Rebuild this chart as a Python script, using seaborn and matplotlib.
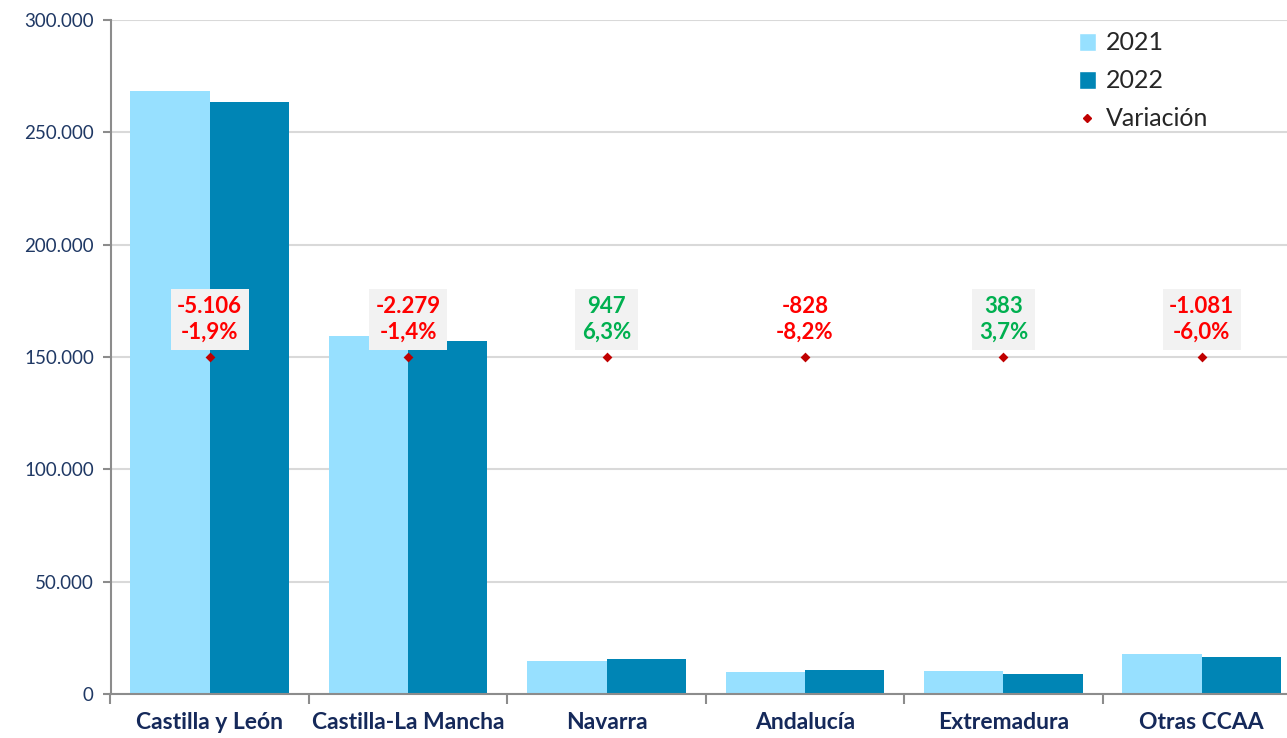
import numpy as np
import pandas as pd
import matplotlib
matplotlib.use("Agg")
import matplotlib.pyplot as plt
import seaborn as sns
from matplotlib.patches import Patch
from matplotlib.lines import Line2D
from matplotlib.ticker import FuncFormatter, FixedLocator

# Data
regiones = ["Castilla y León", "Castilla-La Mancha", "Navarra", "Andalucía", "Extremadura", "Otras CCAA"]
valores_2021 = [268450, 159350, 14700, 9650, 10250, 17800]
valores_2022 = [263350, 157100, 15450, 10550, 8900, 16450]
variacion_abs = ["-5.106", "-2.279", "947", "-828", "383", "-1.081"]
variacion_pct = ["-1,9%", "-1,4%", "6,3%", "-8,2%", "3,7%", "-6,0%"]
variacion_positiva = [False, False, True, False, True, False]
con_caja = [True, True, True, False, True, True]
marcador_y = [150000] * 6
y_ticks = [0, 50000, 100000, 150000, 200000, 250000, 300000]

df = pd.DataFrame({
    "Región": regiones * 2,
    "Año": ["2021"] * 6 + ["2022"] * 6,
    "Valor": valores_2021 + valores_2022,
})

sns.set_theme(style="white")
plt.rcParams["font.family"] = ["Lato", "DejaVu Sans"]

c2021 = "#97E0FF"
c2022 = "#0085B5"
navy = "#1F3864"

fig = plt.figure(figsize=(12.87, 7.38), dpi=100)
ax = fig.add_axes([110.5 / 1287, 1 - 694 / 738, 1190.5 / 1287, 674 / 738])

sns.barplot(data=df, x="Región", y="Valor", hue="Año", order=regiones,
            palette={"2021": c2021, "2022": c2022}, width=0.8, saturation=1,
            linewidth=0, ax=ax, legend=False, zorder=2)

sns.stripplot(x=regiones, y=marcador_y, order=regiones, jitter=False,
              marker="D", color="#C00000", size=5, ax=ax, zorder=4)

ax.set_ylim(0, 300000)
ax.set_xlim(-0.5, 5.5)
ax.yaxis.set_major_locator(FixedLocator(y_ticks))
ax.yaxis.set_major_formatter(FuncFormatter(lambda v, p: f"{int(v):,}".replace(",", ".")))
ax.grid(axis="y", color="#D9D9D9", linewidth=1.5, zorder=0)
ax.set_axisbelow(True)
ax.set_xlabel("")
ax.set_ylabel("")

for s in ["top", "right"]:
    ax.spines[s].set_visible(False)
for s in ["left", "bottom"]:
    ax.spines[s].set_color("#8C8C8C")
    ax.spines[s].set_linewidth(1.5)

ax.tick_params(axis="y", left=True, length=6, width=1.5, color="#8C8C8C",
               labelsize=13.5, labelcolor=navy, pad=6)
ax.tick_params(axis="x", which="major", length=0, pad=13)
ax.set_xticks(np.arange(len(regiones) + 1) - 0.5, minor=True)
ax.tick_params(axis="x", which="minor", length=7, width=1.5, color="#8C8C8C", bottom=True)
for lab in ax.get_xticklabels():
    lab.set_fontsize(16.5)
    lab.set_fontweight("bold")
    lab.set_color("#15295A")

for i in range(len(regiones)):
    color = "#00B050" if variacion_positiva[i] else "#FF0000"
    caja = dict(boxstyle="square,pad=0.3", facecolor="#F2F2F2" if con_caja[i] else "none",
                edgecolor="none")
    ax.annotate(variacion_abs[i] + "\n" + variacion_pct[i], xy=(i, marcador_y[i]),
                xytext=(0, 10), textcoords="offset points", ha="center", va="bottom",
                fontsize=16, fontweight="bold", color=color, linespacing=1.3,
                bbox=caja, zorder=5)

handles = [
    Patch(facecolor=c2021, label="2021"),
    Patch(facecolor=c2022, label="2022"),
    Line2D([], [], marker="D", color="#C00000", linestyle="none", markersize=4, label="Variación"),
]
fig.legend(handles=handles, loc="upper left", bbox_to_anchor=(1056 / 1287, 1 - 9 / 738),
           frameon=False, fontsize=18, handlelength=0.7, handleheight=0.7,
           handletextpad=0.4, labelspacing=0.6)

fig.savefig("out.png", dpi=100)
